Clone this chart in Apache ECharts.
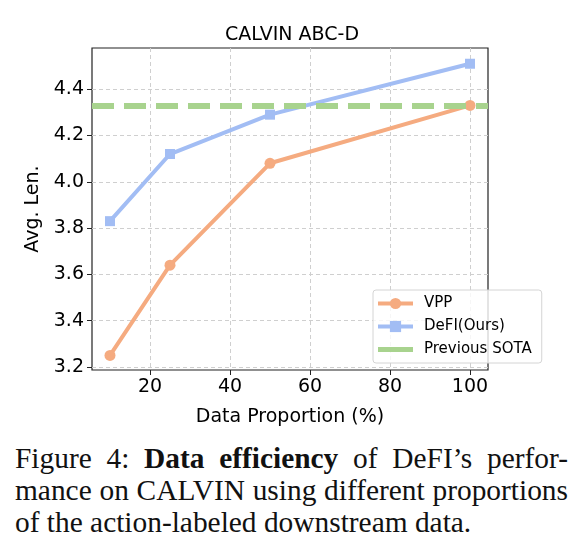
<!DOCTYPE html>
<html>
<head>
<meta charset="utf-8">
<script src="https://cdn.jsdelivr.net/npm/echarts@6/dist/echarts.min.js"></script>
<style>
  html, body { margin: 0; padding: 0; background: #fff; }
  #chart { width: 582px; height: 430px; }
  .caption {
    font-family: "Liberation Serif", "Times New Roman", serif;
    font-size: 29.4px;
    line-height: 32px;
    color: #111;
    margin: 12px 14px 0 15px;
  }
  .caption div { white-space: nowrap; }
  .caption .j { text-align: justify; text-align-last: justify; }
</style>
</head>
<body>
<div id="chart"></div>
<div class="caption">
  <div class="j">Figure 4: <b>Data efficiency</b> of DeFI’s perfor-</div>
  <div class="j">mance on CALVIN using different proportions</div>
  <div>of the action-labeled downstream data.</div>
</div>
<script>
// 数据
const proportions = [10, 25, 50, 100];
const vppValues = [3.25, 3.64, 4.08, 4.33];
const defiValues = [3.83, 4.12, 4.29, 4.51];
const previousSota = 4.33;
const xTicks = [20, 40, 60, 80, 100];
const yTicks = [3.2, 3.4, 3.6, 3.8, 4.0, 4.2, 4.4];

const font = "DejaVu Sans";
const orange = "#f5ab80";
const blue = "#a2bdf4";
const green = "#a8d38e";
const chart = echarts.init(document.getElementById("chart"));

const toPairs = (vals) => proportions.map((p, i) => [p, vals[i]]);

chart.setOption({
  animation: false,
  title: {
    text: "CALVIN ABC-D",
    left: 287,
    textAlign: "center",
    top: 21,
    textStyle: { fontFamily: font, fontSize: 19, fontWeight: "normal", color: "#000" }
  },
  grid: {
    left: 92,
    right: 94,
    top: 48,
    bottom: 60,
    outerBoundsMode: "none",
    show: true,
    borderColor: "#222",
    borderWidth: 1.2
  },
  legend: {
    orient: "vertical",
    left: 373,
    top: 290,
    itemWidth: 35,
    itemHeight: 14,
    itemGap: 8,
    padding: [6, 10, 6, 3],
    backgroundColor: "rgba(255,255,255,0.8)",
    borderColor: "#d4d4d4",
    borderWidth: 1,
    borderRadius: 3,
    textStyle: { fontFamily: font, fontSize: 15, color: "#000", padding: [0, 0, 0, 6] },
    data: [
      { name: "VPP", lineStyle: { width: 4 } },
      { name: "DeFI(Ours)", lineStyle: { width: 4 } },
      {
        name: "Previous SOTA",
        icon: "path://M0,0 H35 V5 H0 Z",
        itemStyle: { color: green, borderWidth: 0 }
      }
    ]
  },
  xAxis: {
    type: "value",
    min: 5.5,
    max: 104.5,
    name: "Data Proportion (%)",
    nameLocation: "middle",
    nameGap: 38,
    nameTextStyle: { fontFamily: font, fontSize: 19, color: "#000" },
    axisLine: { show: false },
    axisTick: { show: true, length: 5, customValues: xTicks, lineStyle: { color: "#222" } },
    axisLabel: { customValues: xTicks, margin: 8, fontFamily: font, fontSize: 19, color: "#000" },
    splitLine: { show: true, lineStyle: { color: "#cfcfcf", type: [4, 3], width: 1 } }
  },
  yAxis: {
    type: "value",
    min: 3.187,
    max: 4.578,
    name: "Avg. Len.",
    nameLocation: "middle",
    nameGap: 41,
    nameTextStyle: { fontFamily: font, fontSize: 19, color: "#000" },
    axisLine: { show: false },
    axisTick: { show: true, length: 5, customValues: yTicks, lineStyle: { color: "#222" } },
    axisLabel: {
      customValues: yTicks,
      margin: 8,
      fontFamily: font,
      fontSize: 19,
      color: "#000",
      formatter: (v) => v.toFixed(1)
    },
    splitLine: { show: true, lineStyle: { color: "#cfcfcf", type: [4, 3], width: 1 } }
  },
  series: [
    {
      name: "Previous SOTA",
      type: "line",
      data: [],
      symbol: "none",
      color: green,
      lineStyle: { color: green, width: 5, type: "solid" },
      markLine: {
        silent: true,
        symbol: "none",
        label: { show: false },
        lineStyle: { color: green, width: 6, type: [22, 10] },
        data: [{ yAxis: previousSota }]
      },
      z: 1
    },
    {
      name: "VPP",
      type: "line",
      data: toPairs(vppValues),
      color: orange,
      symbol: "circle",
      symbolSize: 11,
      showAllSymbol: true,
      lineStyle: { color: orange, width: 4 },
      itemStyle: { color: orange },
      z: 3
    },
    {
      name: "DeFI(Ours)",
      type: "line",
      data: toPairs(defiValues),
      color: blue,
      symbol: "rect",
      symbolSize: 10,
      showAllSymbol: true,
      lineStyle: { color: blue, width: 4 },
      itemStyle: { color: blue },
      z: 3
    }
  ]
});
</script>
</body>
</html>
